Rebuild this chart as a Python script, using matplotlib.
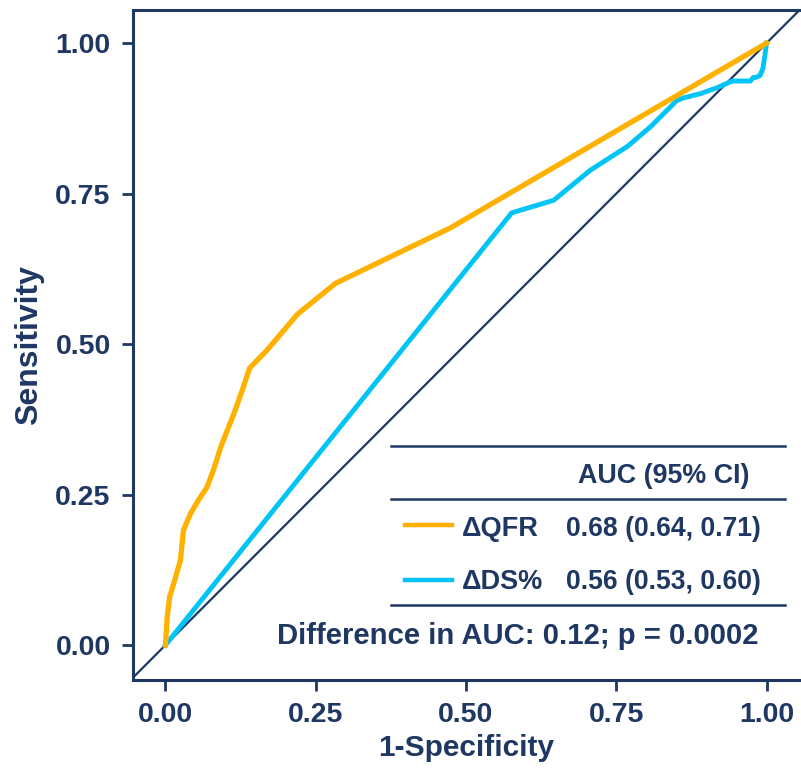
import matplotlib
matplotlib.use("Agg")
import matplotlib.pyplot as plt

# ==========================================================
# DATA
# ==========================================================

qfr_fpr = [0.0, 0.003, 0.007, 0.014, 0.025, 0.030, 0.042, 0.055, 0.069, 0.080,
           0.092, 0.103, 0.116, 0.128, 0.140, 0.169, 0.220, 0.283, 0.474, 1.0]
qfr_tpr = [0.0, 0.047, 0.080, 0.103, 0.141, 0.191, 0.219, 0.241, 0.262, 0.291,
           0.329, 0.357, 0.390, 0.424, 0.460, 0.490, 0.550, 0.601, 0.693, 1.0]

ds_fpr = [0.0, 0.576, 0.646, 0.707, 0.768, 0.807, 0.835, 0.851, 0.862, 0.890,
          0.918, 0.943, 0.973, 0.978, 0.982, 0.989, 0.994, 0.997, 1.0]
ds_tpr = [0.0, 0.718, 0.739, 0.789, 0.828, 0.861, 0.889, 0.905, 0.909, 0.916,
          0.926, 0.937, 0.937, 0.943, 0.943, 0.946, 0.958, 0.978, 1.0]

ticks = [0.0, 0.25, 0.5, 0.75, 1.0]
tick_labels = ["0.00", "0.25", "0.50", "0.75", "1.00"]

names = ["\u0394QFR", "\u0394DS%"]
auc_text = ["0.68 (0.64, 0.71)", "0.56 (0.53, 0.60)"]
diff_text = "Difference in AUC: 0.12; p = 0.0002"

# ==========================================================
# STYLE
# ==========================================================

NAVY = "#1F3763"
ORANGE = "#FFB100"
CYAN = "#00C4F5"
SANS = "Liberation Sans"

# ==========================================================
# PLOT
# ==========================================================

fig = plt.figure(figsize=(8.01, 7.69), dpi=100)
ax = fig.add_axes([0.166, 0.1157, 0.833, 0.8713])

ax.plot([-0.1, 1.1], [-0.1, 1.1], color=NAVY, lw=1.6, zorder=1)
ax.plot(ds_fpr, ds_tpr, color=CYAN, lw=3.5, solid_joinstyle="round", zorder=2)
ax.plot(qfr_fpr, qfr_tpr, color=ORANGE, lw=3.8, solid_joinstyle="round", zorder=3)

ax.set_xlim(-0.054, 1.056)
ax.set_ylim(-0.058, 1.055)

ax.set_xticks(ticks)
ax.set_xticklabels(tick_labels, fontfamily=SANS, fontweight="bold", fontsize=20.5, color=NAVY)
ax.set_yticks(ticks)
ax.set_yticklabels(tick_labels, fontfamily=SANS, fontweight="bold", fontsize=20.5, color=NAVY)
ax.tick_params(axis="both", direction="out", length=8, width=2, color=NAVY)
ax.tick_params(axis="x", pad=8)
ax.tick_params(axis="y", pad=8)

for side in ["left", "top", "bottom"]:
    ax.spines[side].set_color(NAVY)
    ax.spines[side].set_linewidth(2.2)
ax.spines["right"].set_visible(False)

ax.set_xlabel("1-Specificity", fontfamily=SANS, fontweight="bold", fontsize=21.5, color=NAVY, labelpad=4)
ax.set_ylabel("Sensitivity", fontfamily=SANS, fontweight="bold", fontsize=23, color=NAVY, labelpad=8)

# ----------------------------------------------------------
# AUC table
# ----------------------------------------------------------

for yy in [0.331, 0.2425, 0.0664]:
    ax.plot([0.376, 1.030], [yy, yy], color=NAVY, lw=1.8, zorder=4)

ax.text(0.829, 0.269, "AUC (95% CI)", ha="center", va="baseline",
        fontfamily=SANS, fontweight="bold", fontsize=19.4, color=NAVY)

row_y = [0.181, 0.093]
line_y = [0.199, 0.108]
colors = [ORANGE, CYAN]
for i in range(2):
    ax.plot([0.399, 0.476], [line_y[i], line_y[i]], color=colors[i], lw=3.2)
    ax.text(0.494, row_y[i], names[i], ha="left", va="baseline",
            fontfamily=SANS, fontweight="bold", fontsize=19.5, color=NAVY)
    ax.text(0.666, row_y[i], auc_text[i], ha="left", va="baseline",
            fontfamily=SANS, fontweight="bold", fontsize=19.1, color=NAVY)

ax.text(0.186, 0.002, diff_text, ha="left", va="baseline",
        fontfamily=SANS, fontweight="bold", fontsize=21.1, color=NAVY)

fig.savefig("out.png", dpi=100)
